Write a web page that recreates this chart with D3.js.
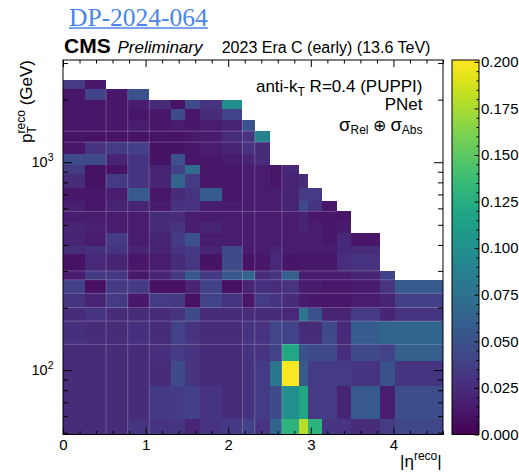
<!DOCTYPE html>
<html>
<head>
<meta charset="utf-8">
<script src="https://cdn.jsdelivr.net/npm/d3@7"></script>
<style>
  body { margin: 0; background: #fff; }
  svg { display: block; }
  text { font-family: "Liberation Sans", Arial, Helvetica, sans-serif; fill: #000; }
</style>
</head>
<body>
<svg id="chart" width="519" height="472"></svg>
<script>
// |eta| bin edges (last bin is cut at the axis end)
const etaEdges = [0, 0.261, 0.522, 0.783, 1.044, 1.305, 1.479, 1.653, 1.930, 2.172,
                  2.322, 2.500, 2.650, 2.853, 2.964, 3.139, 3.314, 3.489, 3.839, 4.013, 4.6];
// pT bin edges in GeV
const ptEdges = [49, 58, 84, 110, 133, 172, 200, 234, 272, 300, 362, 395, 455, 515, 580,
                 650, 750, 875, 970, 1100, 1250, 1410, 1590, 1800, 2000, 2240, 2500];
// Total uncertainty per pT bin (lowest first); each row lists |eta| bins from 0 outwards
const uncertainty = [
  [0.025,0.025,0.025,0.030,0.030,0.030,0.020,0.030,0.033,0.040,0.030,0.065,0.130,0.180,0.130,0.030,0.030,0.025,0.035,0.042],
  [0.025,0.025,0.025,0.025,0.033,0.035,0.038,0.030,0.025,0.030,0.035,0.045,0.100,0.120,0.035,0.035,0.020,0.055,0.015,0.048],
  [0.025,0.025,0.025,0.025,0.025,0.045,0.030,0.025,0.025,0.030,0.035,0.078,0.200,0.055,0.035,0.035,0.035,0.030,0.050,0.030],
  [0.025,0.025,0.025,0.025,0.027,0.035,0.030,0.025,0.025,0.030,0.030,0.040,0.120,0.050,0.045,0.045,0.027,0.045,0.040,0.060],
  [0.028,0.025,0.025,0.028,0.025,0.040,0.030,0.025,0.025,0.030,0.030,0.042,0.040,0.025,0.025,0.045,0.022,0.058,0.065,0.065],
  [0.025,0.030,0.025,0.025,0.025,0.030,0.045,0.025,0.025,0.025,0.025,0.025,0.022,0.080,0.050,0.020,0.020,0.035,0.020,0.030],
  [0.030,0.020,0.035,0.013,0.035,0.033,0.009,0.040,0.030,0.012,0.035,0.030,0.025,0.015,0.013,0.012,0.012,0.015,0.020,0.038],
  [0.038,0.008,0.035,0.035,0.009,0.008,0.020,0.040,0.008,0.020,0.028,0.025,0.030,0.015,0.015,0.012,0.012,0.015,0.030,0.058],
  [0.015,0.035,0.032,0.013,0.020,0.032,0.055,0.035,0.055,0.065,0.025,0.030,0.060,0.015,0.015,0.015,0.015,0.020,0.040],
  [0.010,0.022,0.020,0.012,0.015,0.025,0.032,0.010,0.045,0.010,0.012,0.022,0.011,0.012,0.013,0.012,0.027,0.030],
  [0.025,0.028,0.030,0.020,0.020,0.030,0.035,0.020,0.045,0.015,0.015,0.020,0.015,0.015,0.015,0.015,0.022,0.025],
  [0.020,0.015,0.035,0.015,0.020,0.035,0.050,0.015,0.015,0.015,0.015,0.015,0.015,0.015,0.015,0.012,0.022,0.012],
  [0.020,0.018,0.015,0.015,0.025,0.030,0.015,0.020,0.015,0.015,0.015,0.015,0.015,0.020,0.015,0.012,0.015],
  [0.015,0.015,0.015,0.015,0.025,0.025,0.015,0.015,0.015,0.015,0.015,0.015,0.015,0.020,0.012,0.012,0.012],
  [0.018,0.012,0.020,0.020,0.015,0.030,0.030,0.015,0.015,0.015,0.015,0.015,0.020,0.045,0.030,0.012],
  [0.012,0.012,0.015,0.055,0.012,0.025,0.030,0.058,0.012,0.015,0.015,0.015,0.020,0.035,0.035],
  [0.025,0.010,0.035,0.030,0.020,0.065,0.035,0.012,0.012,0.015,0.015,0.012,0.020,0.025],
  [0.035,0.010,0.010,0.030,0.020,0.040,0.070,0.012,0.012,0.015,0.015,0.012,0.022],
  [0.045,0.045,0.020,0.030,0.010,0.050,0.012,0.012,0.015,0.020,0.025],
  [0.012,0.030,0.035,0.038,0.010,0.010,0.012,0.015,0.020,0.030,0.025],
  [0.010,0.010,0.010,0.010,0.010,0.010,0.012,0.015,0.025,0.030,0.090],
  [0.012,0.012,0.012,0.015,0.012,0.015,0.012,0.015,0.020,0.050],
  [0.012,0.012,0.012,0.012,0.012,0.045,0.012,0.025,0.040],
  [0.012,0.012,0.012,0.015,0.025,0.010,0.045,0.030,0.100],
  [0.012,0.040,0.012,0.050],
  [0.035,0.012]
];
// Bin boundaries where the rendered boxes leave a visible light seam
const seamEta = [0.522, 0.783, 1.044, 2.172, 2.322, 2.650];
const seamPt = [133, 172, 200, 234, 272, 300, 580, 1250, 1410];

const xMajor = [0, 1, 2, 3, 4];
const yMajor = [100, 1000];
const zMajor = [0, 0.025, 0.05, 0.075, 0.1, 0.125, 0.15, 0.175, 0.2];
const zMax = 0.201;

const svg = d3.select("#chart");
const L = 63, R = 443, T = 60, B = 434.5;

const x = d3.scaleLinear().domain([0, 4.6]).range([L, R]);
const y = d3.scaleLog().domain([49, 3103]).range([B, T]);
const color = v => d3.interpolateViridis(Math.max(0, Math.min(1, v / zMax)));

// heat-map cells
const cells = [];
uncertainty.forEach((row, i) => row.forEach((v, j) => cells.push({
  x0: etaEdges[j], x1: etaEdges[j + 1], y0: ptEdges[i], y1: ptEdges[i + 1], v
})));
svg.append("g").selectAll("rect").data(cells).join("rect")
  .attr("x", d => x(d.x0))
  .attr("y", d => y(d.y1))
  .attr("width", d => x(d.x1) - x(d.x0))
  .attr("height", d => y(d.y0) - y(d.y1))
  .attr("fill", d => color(d.v))
  .attr("shape-rendering", "crispEdges");

// light seams along some bin boundaries
const seams = svg.append("g").attr("stroke", "#fff").attr("stroke-opacity", 0.22).attr("stroke-width", 1);
seamEta.forEach(e => {
  const j = etaEdges.indexOf(e);
  let top = 0;
  uncertainty.forEach((row, i) => { if (row.length > j) top = i + 1; });
  seams.append("line").attr("x1", x(e)).attr("x2", x(e)).attr("y1", y(ptEdges[0])).attr("y2", y(ptEdges[top]));
});
seamPt.forEach(p => {
  const i = ptEdges.indexOf(p);
  const n = uncertainty[i].length;
  seams.append("line").attr("y1", y(p)).attr("y2", y(p)).attr("x1", x(0)).attr("x2", x(etaEdges[n]));
});

// axes with inward ticks on all four sides
function minorLog() {
  const out = [];
  [10, 100, 1000].forEach(d => { for (let k = 2; k <= 9; k++) { const v = k * d; if (v >= 49 && v <= 3103) out.push(v); } });
  return out;
}
const xMinor = d3.range(0, 4.61, 0.2).filter(v => Math.abs(v - Math.round(v)) > 1e-6);
const styleAxis = g => { g.select(".domain").remove(); g.selectAll("line").attr("stroke", "#000"); };

svg.append("g").attr("transform", `translate(0,${B})`)
  .call(d3.axisBottom(x).tickValues(xMinor).tickSize(-3.5).tickFormat("")).call(styleAxis);
svg.append("g").attr("transform", `translate(0,${T})`)
  .call(d3.axisTop(x).tickValues(xMinor).tickSize(-3.5).tickFormat("")).call(styleAxis);
svg.append("g").attr("transform", `translate(0,${T})`)
  .call(d3.axisTop(x).tickValues(xMajor).tickSize(-7).tickFormat("")).call(styleAxis);
const xAxis = svg.append("g").attr("transform", `translate(0,${B})`)
  .call(d3.axisBottom(x).tickValues(xMajor).tickSize(-7).tickPadding(5).tickFormat(d3.format("d")))
  .call(styleAxis);
xAxis.selectAll("text").attr("font-size", 15).attr("font-family", '"Liberation Sans", Arial, sans-serif');

svg.append("g").attr("transform", `translate(${L},0)`)
  .call(d3.axisLeft(y).tickValues(minorLog()).tickSize(-5).tickFormat("")).call(styleAxis);
svg.append("g").attr("transform", `translate(${R},0)`)
  .call(d3.axisRight(y).tickValues(minorLog()).tickSize(-5).tickFormat("")).call(styleAxis);
svg.append("g").attr("transform", `translate(${L},0)`)
  .call(d3.axisLeft(y).tickValues(yMajor).tickSize(-9).tickFormat("")).call(styleAxis);
svg.append("g").attr("transform", `translate(${R},0)`)
  .call(d3.axisRight(y).tickValues(yMajor).tickSize(-9).tickFormat("")).call(styleAxis);

// y tick labels as powers of ten
yMajor.forEach(v => {
  const t = svg.append("text").attr("x", L - 9.5).attr("y", y(v) + 5).attr("text-anchor", "end").attr("font-size", 14.5);
  t.append("tspan").text("10");
  t.append("tspan").attr("font-size", 10.5).attr("dy", -6).text(Math.round(Math.log10(v)));
});

// plot frame
svg.append("rect").attr("x", L).attr("y", T).attr("width", R - L).attr("height", B - T)
  .attr("fill", "none").attr("stroke", "#000").attr("stroke-width", 1);

// colour bar
const zL = 452, zR = 479;
const z = d3.scaleLinear().domain([0, zMax]).range([B, T]);
const grad = svg.append("defs").append("linearGradient").attr("id", "viridis")
  .attr("x1", 0).attr("y1", 1).attr("x2", 0).attr("y2", 0);
d3.range(0, 1.0001, 0.05).forEach(t => grad.append("stop").attr("offset", t).attr("stop-color", d3.interpolateViridis(t)));
svg.append("rect").attr("x", zL).attr("y", T).attr("width", zR - zL).attr("height", B - T)
  .attr("fill", "url(#viridis)").attr("stroke", "#000").attr("stroke-width", 1);
const zMinor = d3.range(0, 0.2001, 0.005).filter(v => zMajor.every(m => Math.abs(m - v) > 1e-6));
svg.append("g").attr("transform", `translate(${zR},0)`)
  .call(d3.axisRight(z).tickValues(zMinor).tickSize(-2.5).tickFormat("")).call(styleAxis);
const zAxis = svg.append("g").attr("transform", `translate(${zR},0)`)
  .call(d3.axisRight(z).tickValues(zMajor).tickSize(-4.5).tickPadding(2).tickFormat(d3.format(".3f")))
  .call(styleAxis);
zAxis.selectAll("text").attr("font-size", 15).attr("font-family", '"Liberation Sans", Arial, sans-serif');

// header texts
const title = svg.append("text").attr("x", 69).attr("y", 26).attr("font-size", 25.5)
  .style("font-family", '"Liberation Serif", "DejaVu Serif", serif').style("fill", "#4a86e8").text("DP-2024-064");
const tw = title.node().getComputedTextLength();
svg.append("line").attr("x1", 69).attr("x2", 69 + tw).attr("y1", 28).attr("y2", 28)
  .attr("stroke", "#4a86e8").attr("stroke-width", 1.4);

svg.append("text").attr("x", 64).attr("y", 53.3).attr("font-size", 21).attr("font-weight", "bold").text("CMS");
svg.append("text").attr("x", 117.5).attr("y", 53.3).attr("font-size", 17).attr("font-style", "italic").text("Preliminary");
svg.append("text").attr("x", 221.7).attr("y", 53.3).attr("font-size", 16).text("2023 Era C (early) (13.6 TeV)");

// legend block
const lx = 422.5;
const l1 = svg.append("text").attr("x", lx).attr("y", 92).attr("text-anchor", "end").attr("font-size", 17);
l1.append("tspan").text("anti-k");
l1.append("tspan").attr("font-size", 12).attr("dy", 4).text("T");
l1.append("tspan").attr("dy", -4).text(" R=0.4 (PUPPI)");
svg.append("text").attr("x", lx).attr("y", 110).attr("text-anchor", "end").attr("font-size", 17).text("PNet");
const l3 = svg.append("text").attr("x", lx).attr("y", 131).attr("text-anchor", "end").attr("font-size", 16);
l3.append("tspan").attr("font-size", 18.5).text("σ");
l3.append("tspan").attr("font-size", 12).attr("dy", 3).text("Rel");
l3.append("tspan").attr("dy", -3).text(" ⊕ ");
l3.append("tspan").attr("font-size", 18.5).text("σ");
l3.append("tspan").attr("font-size", 12).attr("dy", 3).text("Abs");

// axis titles
const xt = svg.append("text").attr("x", 441.7).attr("y", 467).attr("text-anchor", "end").attr("font-size", 17);
xt.append("tspan").text("|η");
xt.append("tspan").attr("font-size", 12).attr("dy", -7).text("reco");
xt.append("tspan").attr("dy", 7).text("|");

const yt = svg.append("text").attr("transform", `translate(32,${T}) rotate(-90)`)
  .attr("text-anchor", "end").attr("font-size", 17);
yt.append("tspan").text("p");
const sup = yt.append("tspan").attr("font-size", 12).attr("dy", -7).text("reco");
const supW = sup.node().getComputedTextLength();
const sub = yt.append("tspan").attr("font-size", 12).attr("dx", -supW).attr("dy", 11).text("T");
const subW = sub.node().getComputedTextLength();
yt.append("tspan").attr("dx", supW - subW).attr("dy", -4).text(" (GeV)");
</script>
</body>
</html>
